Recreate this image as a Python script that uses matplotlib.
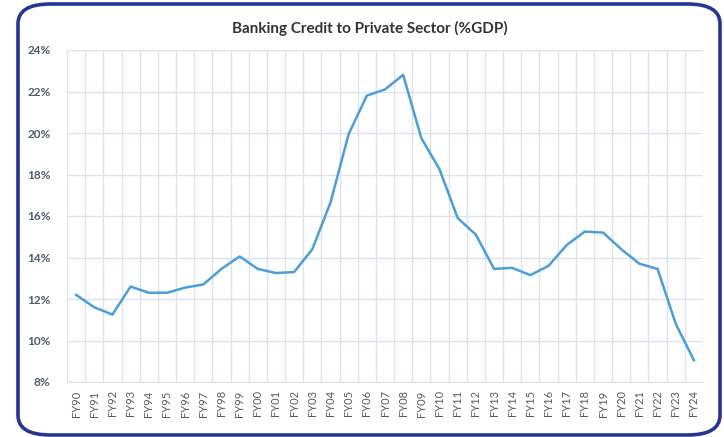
import matplotlib.pyplot as plt
from matplotlib.patches import FancyBboxPatch
from matplotlib.ticker import FixedLocator, FuncFormatter

years = ["FY90", "FY91", "FY92", "FY93", "FY94", "FY95", "FY96", "FY97", "FY98", "FY99",
         "FY00", "FY01", "FY02", "FY03", "FY04", "FY05", "FY06", "FY07", "FY08", "FY09",
         "FY10", "FY11", "FY12", "FY13", "FY14", "FY15", "FY16", "FY17", "FY18", "FY19",
         "FY20", "FY21", "FY22", "FY23", "FY24"]
credit = [12.2, 11.6, 11.25, 12.6, 12.3, 12.3, 12.55, 12.7, 13.45, 14.05,
          13.45, 13.25, 13.3, 14.4, 16.65, 19.95, 21.8, 22.1, 22.8, 19.75,
          18.25, 15.9, 15.1, 13.45, 13.5, 13.15, 13.6, 14.6, 15.25, 15.2,
          14.4, 13.7, 13.45, 10.8, 9.05]
y_ticks = [8, 10, 12, 14, 16, 18, 20, 22, 24]

plt.rcParams['font.family'] = ['Lato', 'DejaVu Sans']

fig = plt.figure(figsize=(7.24, 4.37), dpi=100)
fig.patch.set_facecolor("white")

# rounded frame around the chart
frame = FancyBboxPatch((18 / 724, 1 - 435 / 437), 702 / 724, 431 / 437,
                       boxstyle="round,pad=0,rounding_size=0.045",
                       transform=fig.transFigure, facecolor="white",
                       edgecolor="#283593", linewidth=2.6, zorder=-1)
fig.patches.append(frame)

ax = fig.add_axes([67 / 724, 1 - 382 / 437, 636 / 724, 332 / 437])
ax.set_zorder(2)
ax.set_facecolor("none")

x = list(range(len(years)))
ax.plot(x, credit, color="#4a9fd9", linewidth=1.8, zorder=3)

ax.set_xlim(-0.5, len(years) - 0.5)
ax.set_ylim(8, 24)
ax.set_yticks(y_ticks)
ax.yaxis.set_major_formatter(FuncFormatter(lambda v, p: f"{v:.0f}%"))
ax.set_xticks(x)
ax.set_xticklabels(years, rotation=90)
ax.xaxis.set_minor_locator(FixedLocator([i - 0.5 for i in range(len(years) + 1)]))

ax.grid(axis="y", which="major", color="#dde1ec", linewidth=1.0)
ax.grid(axis="x", which="minor", color="#dde1ec", linewidth=1.0)
ax.grid(axis="x", which="major", visible=False)
ax.tick_params(axis="both", which="both", length=0)
ax.tick_params(axis="x", labelsize=8, colors="#505a66", pad=6)
ax.tick_params(axis="y", labelsize=8.5, colors="#505a66", pad=12)
for lab in ax.get_yticklabels():
    lab.set_fontweight("bold")
for s in ax.spines.values():
    s.set_visible(False)
ax.spines["bottom"].set_visible(True)
ax.spines["bottom"].set_color("#dde1ec")

fig.text(370 / 724, 1 - 28 / 437, "Banking Credit to Private Sector (%GDP)",
         ha="center", va="center", fontsize=11, fontweight="bold", color="#333333")

fig.savefig("out.png", dpi=100)
